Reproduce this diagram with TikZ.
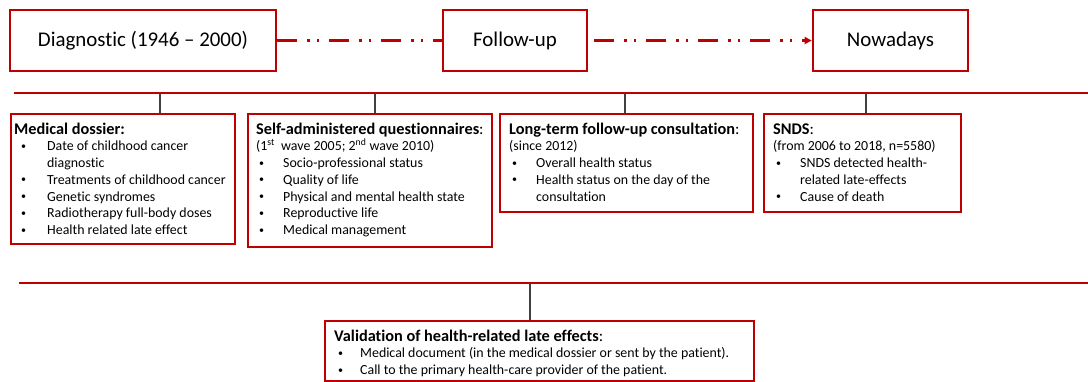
\documentclass[tikz,border=0pt]{standalone}
\usepackage{fontspec}
\setmainfont{Carlito}[Ligatures=NoCommon]
\usetikzlibrary{positioning,arrows.meta}
\definecolor{darkred}{HTML}{C00000}
\definecolor{tickgray}{HTML}{404040}
\newlength\bulpre
\newlength\bulind
% bullet line with hanging indent
\newcommand{\bul}[1]{\par\noindent\hangindent=\bulind\hangafter=1%
  \makebox[\bulind][l]{\hspace{\bulpre}\raisebox{1.4pt}{\fontsize{10}{10}\selectfont\textbullet}}#1}
% top-aligned box content: width, height, left margin, top pad, text
\newcommand{\infotext}[5]{\parbox[t][#2][t]{#1}{\raggedright\leftskip=#3\relax
  \fontsize{13.9}{16.7}\selectfont\vspace*{#4}#5}}
\newcommand{\ttl}[1]{\noindent\rule{0pt}{12pt}{\fontsize{16.3}{16.7}\selectfont #1}}
\tikzset{
  phasebox/.style={draw=darkred, line width=2.6pt, inner sep=0pt, minimum height=61pt,
                   font=\fontsize{20.9}{24}\selectfont},
  infobox/.style={draw=darkred, line width=2.4pt, inner sep=0pt, anchor=north west},
  rail/.style={draw=darkred, line width=2.4pt},
  tickline/.style={draw=tickgray, line width=1.3pt},
  timeline/.style={draw=darkred, line width=2.8pt,
                   dash pattern=on 20pt off 10pt on 2.5pt off 7pt on 2.5pt off 10pt},
}

\begin{document}
\begin{tikzpicture}[x=1pt,y=1pt]
  \useasboundingbox (0,0) rectangle (1088,-381);
  % timeline
  \node[phasebox, minimum width=266pt] (diag) at (143,-40.5) {Diagnostic (1946 -- 2000)};
  \node[phasebox, minimum width=144pt] (follow) at (515,-40.5) {Follow-up};
  \node[phasebox, minimum width=155pt] (now) at (890.5,-40.5) {Nowadays};
  \draw[timeline] (diag.east) -- (follow.west);
  \draw[timeline, shorten <=6pt, -{Triangle[length=7pt,width=7pt]}] (follow.east) -- (now.west);
  % data sources
  \setlength\bulpre{7pt}\setlength\bulind{33pt}
  \node[infobox] (dossier) at (10,-113) {\infotext{224pt}{130pt}{3pt}{8pt}{%
    \ttl{\bfseries Medical dossier:}
    \bul{Date of childhood cancer\newline diagnostic}
    \bul{Treatments of childhood cancer}
    \bul{Genetic syndromes}
    \bul{Radiotherapy full-body doses}
    \bul{Health related late effect}}};
  \setlength\bulpre{3pt}\setlength\bulind{27pt}
  \node[infobox] (quest) at (247,-113) {\infotext{244pt}{133pt}{8pt}{8pt}{%
    \ttl{\textbf{Self-administered questionnaires}:}
    \par\noindent(1\textsuperscript{st}\ \ wave 2005; 2\textsuperscript{nd} wave 2010)
    \bul{Socio-professional status}
    \bul{Quality of life}
    \bul{Physical and mental health state}
    \bul{Reproductive life}
    \bul{Medical management}}};
  \node[infobox] (consult) at (499,-113) {\infotext{253pt}{98pt}{9pt}{8pt}{%
    \ttl{\textbf{Long-term follow-up consultation}:}
    \par\noindent(since 2012)
    \bul{Overall health status}
    \bul{Health status on the day of the\newline consultation}}};
  \node[infobox] (snds) at (763,-113) {\infotext{197pt}{98pt}{9pt}{8pt}{%
    \ttl{\textbf{SNDS}:}
    \par\noindent(from 2006 to 2018, n=5580)
    \bul{SNDS detected health-\newline related late-effects}
    \bul{Cause of death}}};
  \setlength\bulpre{4pt}\setlength\bulind{26pt}
  \node[infobox] (valid) at (324,-320) {\infotext{429pt}{60pt}{9pt}{8pt}{%
    \ttl{\textbf{Validation of health-related late effects}:}
    \bul{Medical document (in the medical dossier or sent by the patient).}
    \bul{Call to the primary health-care provider of the patient.}}};
  % rails and ticks
  \coordinate (railA) at (14,-93);
  \coordinate (railAend) at (1088,-93);
  \coordinate (railB) at (19,-283);
  \coordinate (railBend) at (1088,-283);
  \draw[rail] (railA) -- (railAend);
  \draw[rail] (railB) -- (railBend);
  \coordinate (tA) at (160,-93);
  \coordinate (tB) at (375,-93);
  \coordinate (tC) at (625,-93);
  \coordinate (tD) at (866,-93);
  \coordinate (tE) at (530,-283);
  \draw[tickline] (tA) -- (tA |- dossier.north);
  \draw[tickline] (tB) -- (tB |- quest.north);
  \draw[tickline] (tC) -- (tC |- consult.north);
  \draw[tickline] (tD) -- (tD |- snds.north);
  \draw[tickline] (tE) -- (tE |- valid.north);
\end{tikzpicture}
\end{document}
